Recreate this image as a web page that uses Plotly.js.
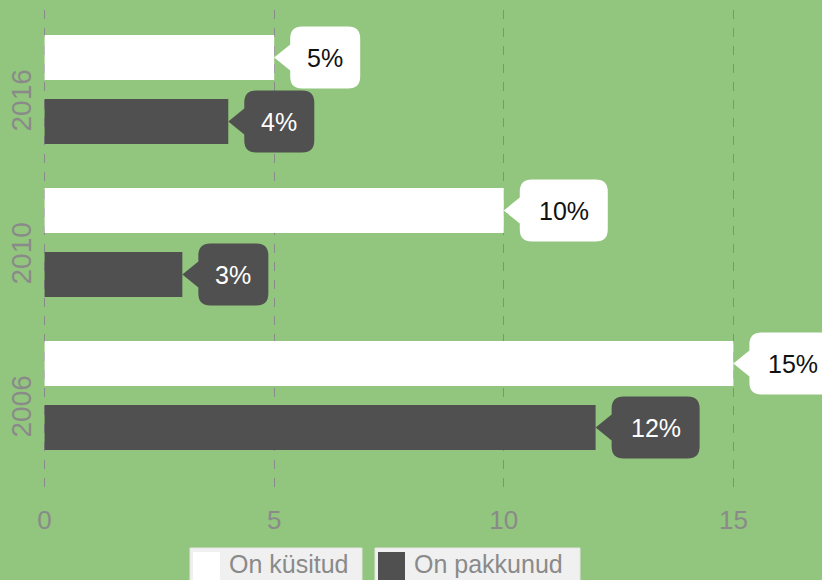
<!DOCTYPE html>
<html>
<head>
<meta charset="utf-8">
<script src="https://cdn.plot.ly/plotly-3.0.1.min.js"></script>
<style>html,body{margin:0;padding:0;background:#92c57d;}#chart{width:822px;height:580px;}</style>
</head>
<body>
<div id="chart"></div>
<script>
// ---- data ----
const years = ['2006', '2010', '2016'];
const kysitud = [15, 10, 5];      // On küsitud
const pakkunud = [12, 3, 4];      // On pakkunud
const seriesNames = ['On küsitud', 'On pakkunud'];
const xTicks = [0, 5, 10, 15];

// ---- style ----
const W = 822, H = 580;
const M = {l: 40, r: 0, t: 10, b: 85};
const BG = '#92c57d';
const WHITE = '#ffffff';
const DARK = '#505050';
const GRAY = '#8a8a8a';
const FONT = 'Arial, "Liberation Sans", sans-serif';
const BARGAP = 0.163;
const GROUPGAP = 0.297;
const OFF = (1 - BARGAP) / 4;   // centre offset of each bar in a group

const traces = [
  {
    type: 'bar', orientation: 'h', name: seriesNames[1],
    y: years, x: pakkunud,
    marker: {color: DARK}, showlegend: false, hoverinfo: 'none'
  },
  {
    type: 'bar', orientation: 'h', name: seriesNames[0],
    y: years, x: kysitud,
    marker: {color: WHITE}, showlegend: false, hoverinfo: 'none'
  }
];

// callout boxes built from the data
function boxWidth(label) { return 18 * label.length + 34; }
function calloutPath(label) {
  const w = boxWidth(label), h = 31, r = 12, p = 16, a = 13;
  const L = p, R = p + w;
  return `M0,0 L${L},${a} L${L},${h - r} Q${L},${h} ${L + r},${h} L${R - r},${h} Q${R},${h} ${R},${h - r} ` +
         `L${R},${-h + r} Q${R},${-h} ${R - r},${-h} L${L + r},${-h} Q${L},${-h} ${L},${-h + r} L${L},${-a} Z`;
}
const shapes = [], annotations = [];
function addCallouts(vals, offset, fill, txtColor) {
  vals.forEach((v, i) => {
    const label = v + '%';
    shapes.push({
      type: 'path', xref: 'x', yref: 'y', xsizemode: 'pixel', ysizemode: 'pixel',
      xanchor: v, yanchor: i + offset, path: calloutPath(label),
      fillcolor: fill, line: {width: 0}, layer: 'above'
    });
    annotations.push({
      xref: 'x', yref: 'y', x: v, y: i + offset, xshift: 16 + boxWidth(label) / 2,
      text: label, showarrow: false, xanchor: 'center', yanchor: 'middle',
      font: {family: FONT, size: 25, color: txtColor}
    });
  });
}
addCallouts(kysitud, OFF, WHITE, '#111111');
addCallouts(pakkunud, -OFF, DARK, '#ffffff');

// legend boxes (drawn at the bottom, partly cut by the page edge as in the original)
const pw = W - M.l - M.r, ph = H - M.t - M.b;
const px = v => (v - M.l) / pw;
const py = v => (H - M.b - v) / ph;
const legendItems = [
  {name: seriesNames[0], color: WHITE, left: 190, right: 362},
  {name: seriesNames[1], color: DARK, left: 375, right: 580}
];
legendItems.forEach(it => {
  shapes.push({
    type: 'rect', xref: 'paper', yref: 'paper',
    x0: px(it.left), x1: px(it.right), y0: py(548), y1: py(600),
    fillcolor: '#f0f0f0', line: {width: 1, color: '#e4e4e4'}, layer: 'above'
  });
  shapes.push({
    type: 'rect', xref: 'paper', yref: 'paper',
    x0: px(it.left + 3), x1: px(it.left + 30), y0: py(552), y1: py(580),
    fillcolor: it.color, line: {width: 0}, layer: 'above'
  });
  annotations.push({
    xref: 'paper', yref: 'paper', x: px(it.left + 37), y: py(564),
    xanchor: 'left', yanchor: 'middle', showarrow: false, text: it.name,
    font: {family: FONT, size: 25, color: GRAY}
  });
});

const layout = {
  width: W, height: H,
  paper_bgcolor: BG, plot_bgcolor: BG,
  font: {family: FONT, color: GRAY},
  margin: {l: M.l, r: M.r, t: M.t, b: M.b, autoexpand: false},
  barmode: 'group', bargap: BARGAP, bargroupgap: GROUPGAP,
  xaxis: {
    range: [-0.1, 16.93], tickvals: xTicks, ticktext: xTicks.map(String),
    showgrid: true, gridcolor: '#8a8a8a', griddash: 'dash', gridwidth: 1,
    zeroline: false, showline: false, ticks: '', ticklabelstandoff: 7,
    tickfont: {family: FONT, size: 26, color: GRAY}, fixedrange: true
  },
  yaxis: {
    type: 'category', categoryorder: 'array', categoryarray: years,
    range: [-0.65, 2.52], showgrid: false, zeroline: false, showline: false, ticks: '',
    tickangle: -90, ticklabelshift: 15, ticklabelstandoff: 2,
    tickfont: {family: FONT, size: 28, color: GRAY}, fixedrange: true
  },
  showlegend: false,
  shapes: shapes,
  annotations: annotations
};

Plotly.newPlot('chart', traces, layout, {displayModeBar: false, staticPlot: true});
</script>
</body>
</html>
